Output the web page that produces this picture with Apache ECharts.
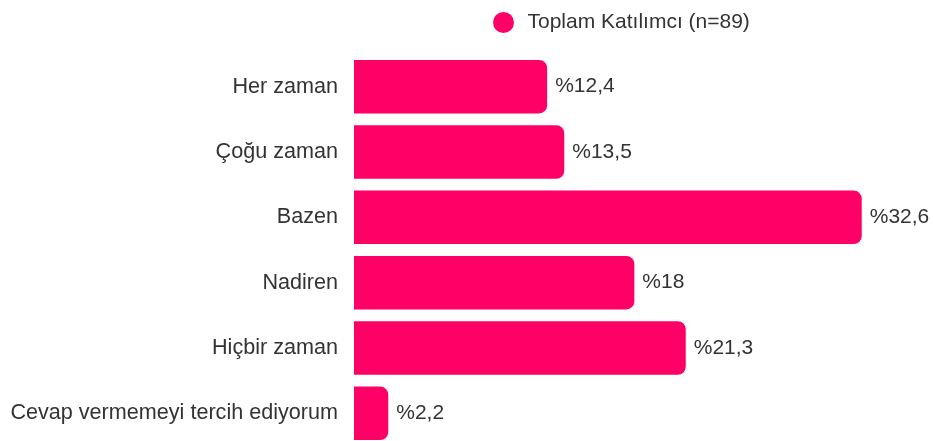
<!DOCTYPE html>
<html>
<head>
<meta charset="utf-8">
<script src="https://cdn.jsdelivr.net/npm/echarts@6/dist/echarts.min.js"></script>
<style>
  html, body { margin: 0; padding: 0; background: #fff; }
  #chart { width: 933px; height: 441px; }
</style>
</head>
<body>
<div id="chart"></div>
<script>
// kategoriler (yukarıdan aşağıya)
const categories = ['Her zaman', 'Çoğu zaman', 'Bazen', 'Nadiren', 'Hiçbir zaman', 'Cevap vermemeyi tercih ediyorum']
const values = [12.4, 13.5, 32.6, 18, 21.3, 2.2]
const seriesName = 'Toplam Katılımcı (n=89)'

const chart = echarts.init(document.getElementById('chart'))
const option = {
  animation: false,
  textStyle: { fontFamily: 'Liberation Sans, Arial, sans-serif' },
  legend: {
    data: [seriesName],
    left: 488,
    top: 7,
    icon: 'circle',
    itemWidth: 38,
    itemHeight: 21,
    textStyle: { fontSize: 21, color: '#333' }
  },
  grid: {
    left: 354,
    top: 54,
    width: 623,
    height: 392,
    outerBoundsMode: 'none'
  },
  xAxis: {
    type: 'value',
    min: 0,
    max: 40,
    show: false
  },
  yAxis: {
    type: 'category',
    inverse: true,
    data: categories,
    axisLine: { show: false },
    axisTick: { show: false },
    axisLabel: { fontSize: 21.6, color: '#333', margin: 16 }
  },
  series: [
    {
      name: seriesName,
      type: 'bar',
      data: values,
      barCategoryGap: '18%',
      itemStyle: {
        color: '#ff0066',
        borderRadius: [0, 8, 8, 0]
      },
      label: {
        show: true,
        position: 'right',
        distance: 8,
        fontSize: 21,
        color: '#333',
        formatter: p => '%' + String(p.value).replace('.', ',')
      }
    }
  ]
}
chart.setOption(option)
</script>
</body>
</html>
